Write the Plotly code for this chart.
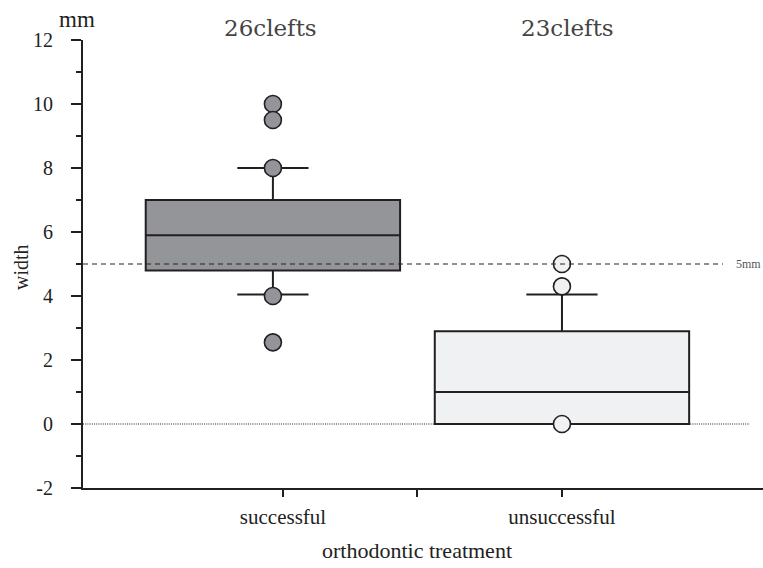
import plotly.graph_objects as go

# ---- data ----
groups = ["successful", "unsuccessful"]
group_pos = [0, 1]
counts = ["26clefts", "23clefts"]
q1 = [4.8, 0.0]
median = [5.9, 1.0]
q3 = [7.0, 2.9]
lower_whisker = [4.05, 0.0]
upper_whisker = [8.0, 4.05]
outliers_successful = [10.0, 9.5, 8.0, 4.0, 2.55]
outliers_unsuccessful = [5.0, 4.3, 0.0]
threshold = 5
baseline = 0
y_ticks = [-2, 0, 2, 4, 6, 8, 10, 12]
y_tick_text = ["-2", "0", "2", "4", "6", "8", "10", "12"]

fills = ["#949599", "#f0f1f3"]
edge = "#231f20"
FONT = "Liberation Serif"
FONT2 = "DejaVu Serif"

fig = go.Figure()
for i in range(2):
    fig.add_trace(go.Box(
        x=[group_pos[i]], q1=[q1[i]], median=[median[i]], q3=[q3[i]],
        lowerfence=[lower_whisker[i]], upperfence=[upper_whisker[i]],
        width=0.88, whiskerwidth=0.28, fillcolor=fills[i],
        line=dict(color=edge, width=2), boxpoints=False, showlegend=False,
    ))

for i, pts in enumerate([outliers_successful, outliers_unsuccessful]):
    fig.add_trace(go.Scatter(
        x=[group_pos[i]] * len(pts), y=pts, mode="markers",
        marker=dict(size=17, color=fills[i], line=dict(color=edge, width=1.6)),
        showlegend=False,
    ))

# reference lines
fig.add_shape(type="line", xref="x", yref="y", x0=-0.657, x1=1.557,
              y0=threshold, y1=threshold,
              line=dict(color="#222", width=1, dash="5px,4px"), layer="above")
fig.add_shape(type="line", xref="x", yref="y", x0=-0.657, x1=1.65,
              y0=baseline, y1=baseline,
              line=dict(color="#222", width=1.2, dash="1px,1.2px"), layer="below")

L, R, T, B = 83, 0, 40, 80
W, H = 763, 568
pw, ph = W - L - R, H - T - B


def px(xp):
    return (xp - L) / pw


def py(yp):
    return (H - B - yp) / ph


ann = []
shifts = [-2, 6]
for i in range(2):
    ann.append(dict(x=group_pos[i], xref="x", y=py(28), yref="paper", text=counts[i],
                    xshift=shifts[i], showarrow=False,
                    font=dict(family=FONT2, size=23, color="#444"),
                    xanchor="center", yanchor="middle"))
ann.append(dict(x=px(77), y=py(20), xref="paper", yref="paper", text="mm", showarrow=False,
                font=dict(family=FONT, size=23, color="#222"), xanchor="center", yanchor="middle"))
ann.append(dict(x=px(21), y=py(267), xref="paper", yref="paper", text="width", showarrow=False,
                textangle=-90, font=dict(family=FONT, size=20, color="#222"),
                xanchor="center", yanchor="middle"))
ann.append(dict(x=px(417), y=py(550), xref="paper", yref="paper", text="orthodontic treatment",
                showarrow=False, font=dict(family=FONT, size=22, color="#222"),
                xanchor="center", yanchor="middle"))
ann.append(dict(x=px(734), y=threshold, xref="paper", yref="y", text="5mm", showarrow=False,
                font=dict(family=FONT, size=12, color="#555"), xanchor="left", yanchor="middle"))

fig.update_layout(
    width=W, height=H, margin=dict(l=L, r=R, t=T, b=B),
    paper_bgcolor="white", plot_bgcolor="white",
    annotations=ann,
    xaxis=dict(range=[-0.657, 1.6955], tickvals=[0.035, 0.5, 1.0],
               ticktext=["successful", "", "unsuccessful"],
               showgrid=False, zeroline=False, showline=True, linecolor=edge, linewidth=2,
               ticks="outside", ticklen=7, tickwidth=2, tickcolor=edge,
               tickfont=dict(family=FONT, size=21, color="#222"), ticklabelstandoff=2),
    yaxis=dict(range=[-2, 12], tickvals=y_ticks, ticktext=y_tick_text,
               showgrid=False, zeroline=False,
               showline=True, linecolor=edge, linewidth=2,
               ticks="outside", ticklen=10, tickwidth=2, tickcolor=edge,
               minor=dict(dtick=1, ticks="outside", ticklen=5, tickwidth=2, tickcolor=edge,
                          showgrid=False),
               tickfont=dict(family=FONT, size=20, color="#222"), ticklabelstandoff=14),
    font=dict(family=FONT),
)

fig.write_html("out.html", config={"displayModeBar": False},
               post_script="document.body.style.margin='0';document.body.style.overflow='hidden';")
